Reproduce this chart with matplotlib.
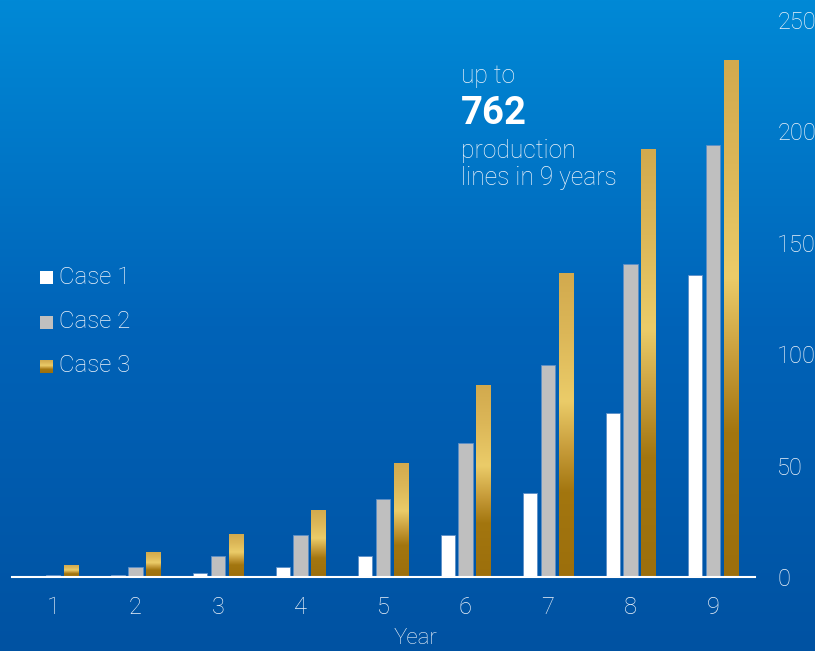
import numpy as np
import matplotlib
matplotlib.use("Agg")
import matplotlib.pyplot as plt
from matplotlib.colors import LinearSegmentedColormap

years = [1, 2, 3, 4, 5, 6, 7, 8, 9]
case1 = [0.5, 1, 2, 4.5, 9.5, 19, 37.5, 73.5, 135.5]
case2 = [1, 4.5, 9.5, 19, 35, 60, 95, 140.5, 194]
case3 = [5, 11, 19, 30, 51, 86, 136, 192, 232]
series_names = ["Case 1", "Case 2", "Case 3"]
yticks = [0, 50, 100, 150, 200, 250]

plt.rcParams['font.family'] = ['Roboto', 'DejaVu Sans']

W, H = 815, 651
fig = plt.figure(figsize=(W / 100, H / 100), dpi=100)

# background gradient
bg = fig.add_axes([0, 0, 1, 1], zorder=0)
bg_cmap = LinearSegmentedColormap.from_list("bg", ["#0052a2", "#0063b8", "#0089d6"])
grad = np.linspace(0, 1, 256).reshape(-1, 1)
bg.imshow(grad, aspect="auto", cmap=bg_cmap, origin="lower", extent=(0, 1, 0, 1))
bg.set_axis_off()

gold = LinearSegmentedColormap.from_list(
    "gold", [(0.0, "#9c6f0c"), (0.28, "#a3760f"), (0.42, "#c79c3a"),
             (0.58, "#ebcc69"), (0.8, "#dcb758"), (1.0, "#d2aa4e")])

txt_col = "#eef3fa"

x0, x1 = 12, 755
y0, y1 = 577, 20
ax = fig.add_axes([x0 / W, 1 - y0 / H, (x1 - x0) / W, (y0 - y1) / H], zorder=1)
ax.patch.set_alpha(0)
px = (713 - 53) / 8

x = np.array(years, dtype=float)
bw = 0.175
off = 0.215
ax.bar(x - off, case1, width=bw, color="white", edgecolor="#5c8fc8", linewidth=0.6, zorder=2)
ax.bar(x, case2, width=bw, color="#bfbfbf", edgecolor="#5c8fc8", linewidth=0.6, zorder=2)
bars3 = ax.bar(x + off, case3, width=bw, color="none", linewidth=0, zorder=2)
for b in bars3:
    bx, bwid, bh = b.get_x(), b.get_width(), b.get_height()
    ax.imshow(grad, aspect="auto", cmap=gold, origin="lower",
              extent=(bx, bx + bwid, 0, bh), zorder=2)
ax.set_xlim(1 - (53 - x0) / px, 9 + (x1 - 713) / px)
ax.set_ylim(0, 250)

for s in ["top", "left", "right"]:
    ax.spines[s].set_visible(False)
ax.spines["bottom"].set_color("white")
ax.spines["bottom"].set_linewidth(1.5)
ax.spines["bottom"].set_zorder(3)

ax.set_xticks(years)
ax.set_xticklabels([str(y) for y in years])
ax.yaxis.tick_right()
ax.set_yticks(yticks)
ax.set_yticklabels([str(t) for t in yticks])
for lbl in ax.get_yticklabels():
    lbl.set_horizontalalignment("left")
ax.tick_params(axis="x", length=0, pad=14, labelsize=17, labelcolor=txt_col)
ax.tick_params(axis="y", length=0, pad=16, labelsize=17, labelcolor=txt_col)
for lbl in ax.get_xticklabels() + ax.get_yticklabels():
    lbl.set_fontweight("light")

fig.text(416 / W, 1 - 639 / H, "Year", ha="center", va="center", fontsize=16,
         color=txt_col, fontweight="light")

# legend
leg_y = [277, 322, 366]
for i, name in enumerate(series_names):
    yc = leg_y[i]
    sq = fig.add_axes([40 / W, 1 - (yc + 7) / H, 13 / W, 13 / H], zorder=2)
    sq.set_axis_off()
    if i == 2:
        sq.imshow(grad, aspect="auto", cmap=gold, origin="lower", extent=(0, 1, 0, 1))
    else:
        sq.imshow([[1]], aspect="auto", cmap=LinearSegmentedColormap.from_list(
            "c", ["white", "#bfbfbf"][i:i + 1] * 2), extent=(0, 1, 0, 1))
    fig.text(59 / W, 1 - yc / H, name, ha="left", va="center", fontsize=17.3,
             color=txt_col, fontweight="light")

# annotation
tx = 461 / W
fig.text(tx, 1 - 83 / H, "up to", ha="left", va="baseline", fontsize=17.7,
         color=txt_col, fontweight="light")
fig.text(tx, 1 - 124 / H, "762", ha="left", va="baseline", fontsize=27.5,
         color="white", fontweight="bold")
fig.text(tx, 1 - 158 / H, "production", ha="left", va="baseline", fontsize=17.7,
         color=txt_col, fontweight="light")
fig.text(tx, 1 - 185 / H, "lines in 9 years", ha="left", va="baseline", fontsize=17.7,
         color=txt_col, fontweight="light")

fig.savefig("out.png", dpi=100)
